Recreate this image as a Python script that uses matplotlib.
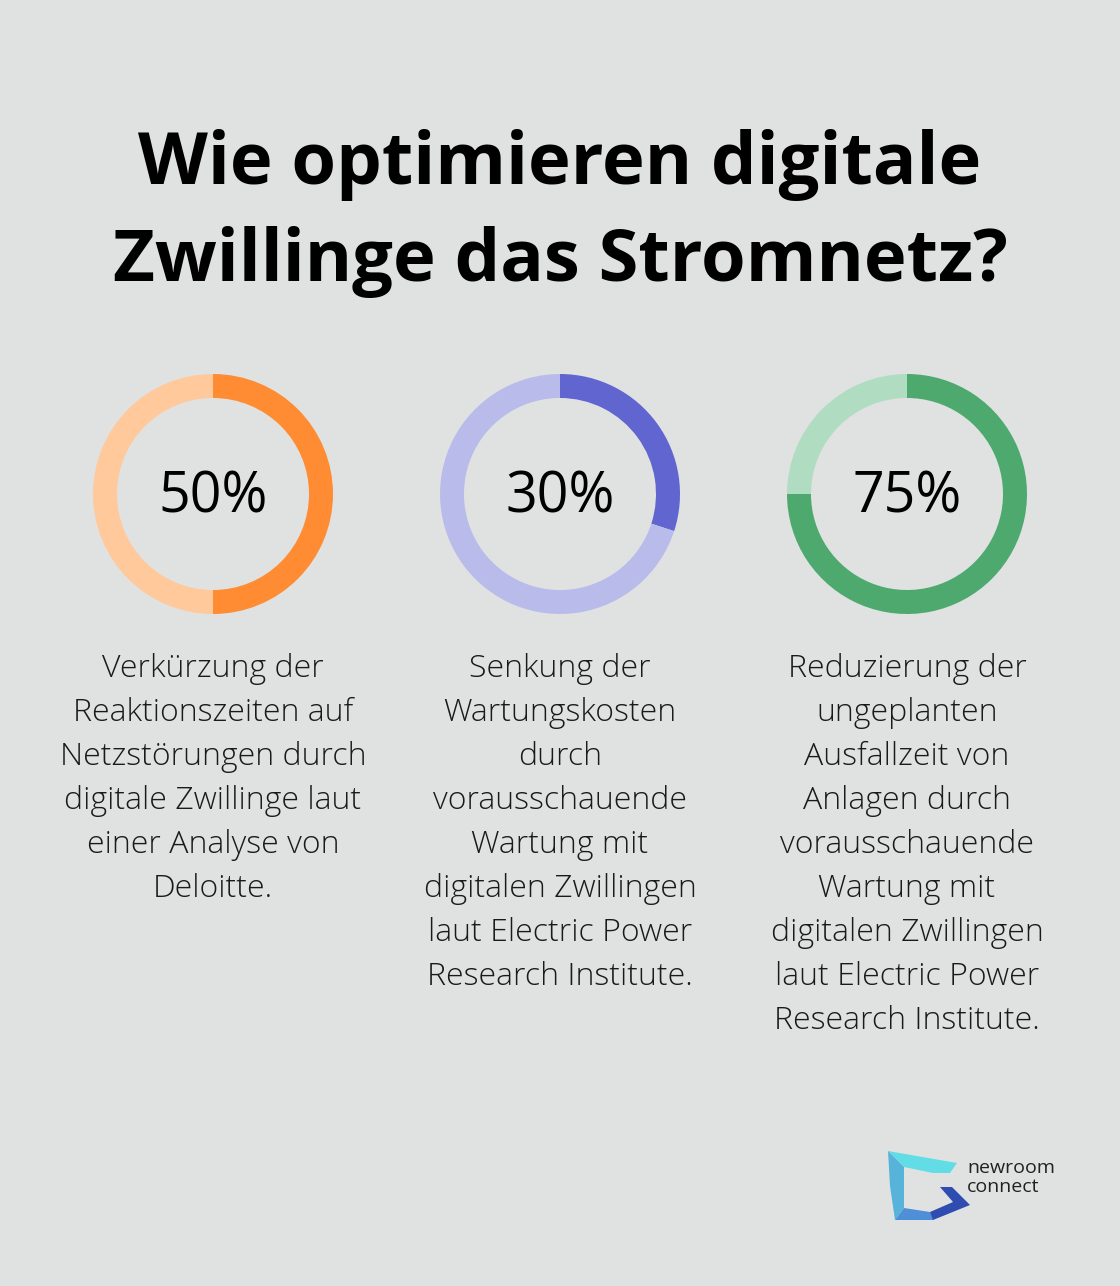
import matplotlib.pyplot as plt
from matplotlib.patches import Polygon

# --- data ---
titel = ["Wie optimieren digitale", "Zwillinge das Stromnetz?"]
werte = [50, 30, 75]
farben = ["#FF8C33", "#6065CF", "#4EA96F"]
farben_hell = ["#FFC99C", "#B9BCEA", "#B0DDC2"]
texte = [
    ["Verkürzung der", "Reaktionszeiten auf", "Netzstörungen durch",
     "digitale Zwillinge laut", "einer Analyse von", "Deloitte."],
    ["Senkung der", "Wartungskosten", "durch", "vorausschauende",
     "Wartung mit", "digitalen Zwillingen", "laut Electric Power",
     "Research Institute."],
    ["Reduzierung der", "ungeplanten", "Ausfallzeit von", "Anlagen durch",
     "vorausschauende", "Wartung mit", "digitalen Zwillingen",
     "laut Electric Power", "Research Institute."],
]

W, H = 1120, 1286
bg = "#E0E2E1"
plt.rcParams['font.family'] = ['Open Sans', 'DejaVu Sans']

fig = plt.figure(figsize=(W / 100, H / 100), dpi=100, facecolor=bg)

# Hintergrund-Achse in Pixelkoordinaten
ax = fig.add_axes([0, 0, 1, 1])
ax.set_xlim(0, W)
ax.set_ylim(H, 0)
ax.axis("off")
ax.set_facecolor(bg)

# Titel
for i, zeile in enumerate(titel):
    ax.text(W / 2, 165 + i * 97, zeile, ha="center", va="center",
            fontsize=52, fontweight="bold", color="#000000")

# Donuts + Texte
spalten_x = [213, 560, 907]
mitte_y = 494
r = 120
for i, (wert, c, ch) in enumerate(zip(werte, farben, farben_hell)):
    cx = spalten_x[i]
    dax = fig.add_axes([(cx - r) / W, (H - mitte_y - r) / H, 2 * r / W, 2 * r / H])
    dax.pie([wert, 100 - wert], colors=[c, ch], startangle=90, counterclock=False,
            radius=1, wedgeprops=dict(width=0.2, linewidth=0))
    dax.set_xlim(-1, 1)
    dax.set_ylim(-1, 1)
    dax.set_aspect("equal")
    dax.axis("off")
    dax.text(0, -0.035, f"{wert}%", ha="center", va="center", fontsize=40,
             color="#000000")

    for j, zeile in enumerate(texte[i]):
        ax.text(cx, 669 + j * 44, zeile, ha="center", va="center",
                fontsize=23, fontweight="light", color="#1a1a1a")

# Logo
logo_teile = [
    ([(888, 1151), (957, 1163), (950, 1173), (933, 1173), (904, 1167)], "#62DDE5"),
    ([(888, 1151), (904, 1167), (904, 1208), (895, 1220), (890, 1186)], "#57B3DA"),
    ([(904, 1208), (930, 1212), (934, 1220), (895, 1220)], "#4F8FD8"),
    ([(940, 1187), (952, 1187), (970, 1205), (933, 1220), (930, 1212), (953, 1202)], "#2F4DB0"),
]
for pts, col in logo_teile:
    ax.add_patch(Polygon(pts, closed=True, facecolor=col, edgecolor="none"))
ax.text(967, 1168, "newroom", ha="left", va="center", fontsize=14, color="#222222")
ax.text(967, 1187, "connect", ha="left", va="center", fontsize=14, color="#222222")

fig.savefig("out.png", dpi=100, facecolor=bg)
